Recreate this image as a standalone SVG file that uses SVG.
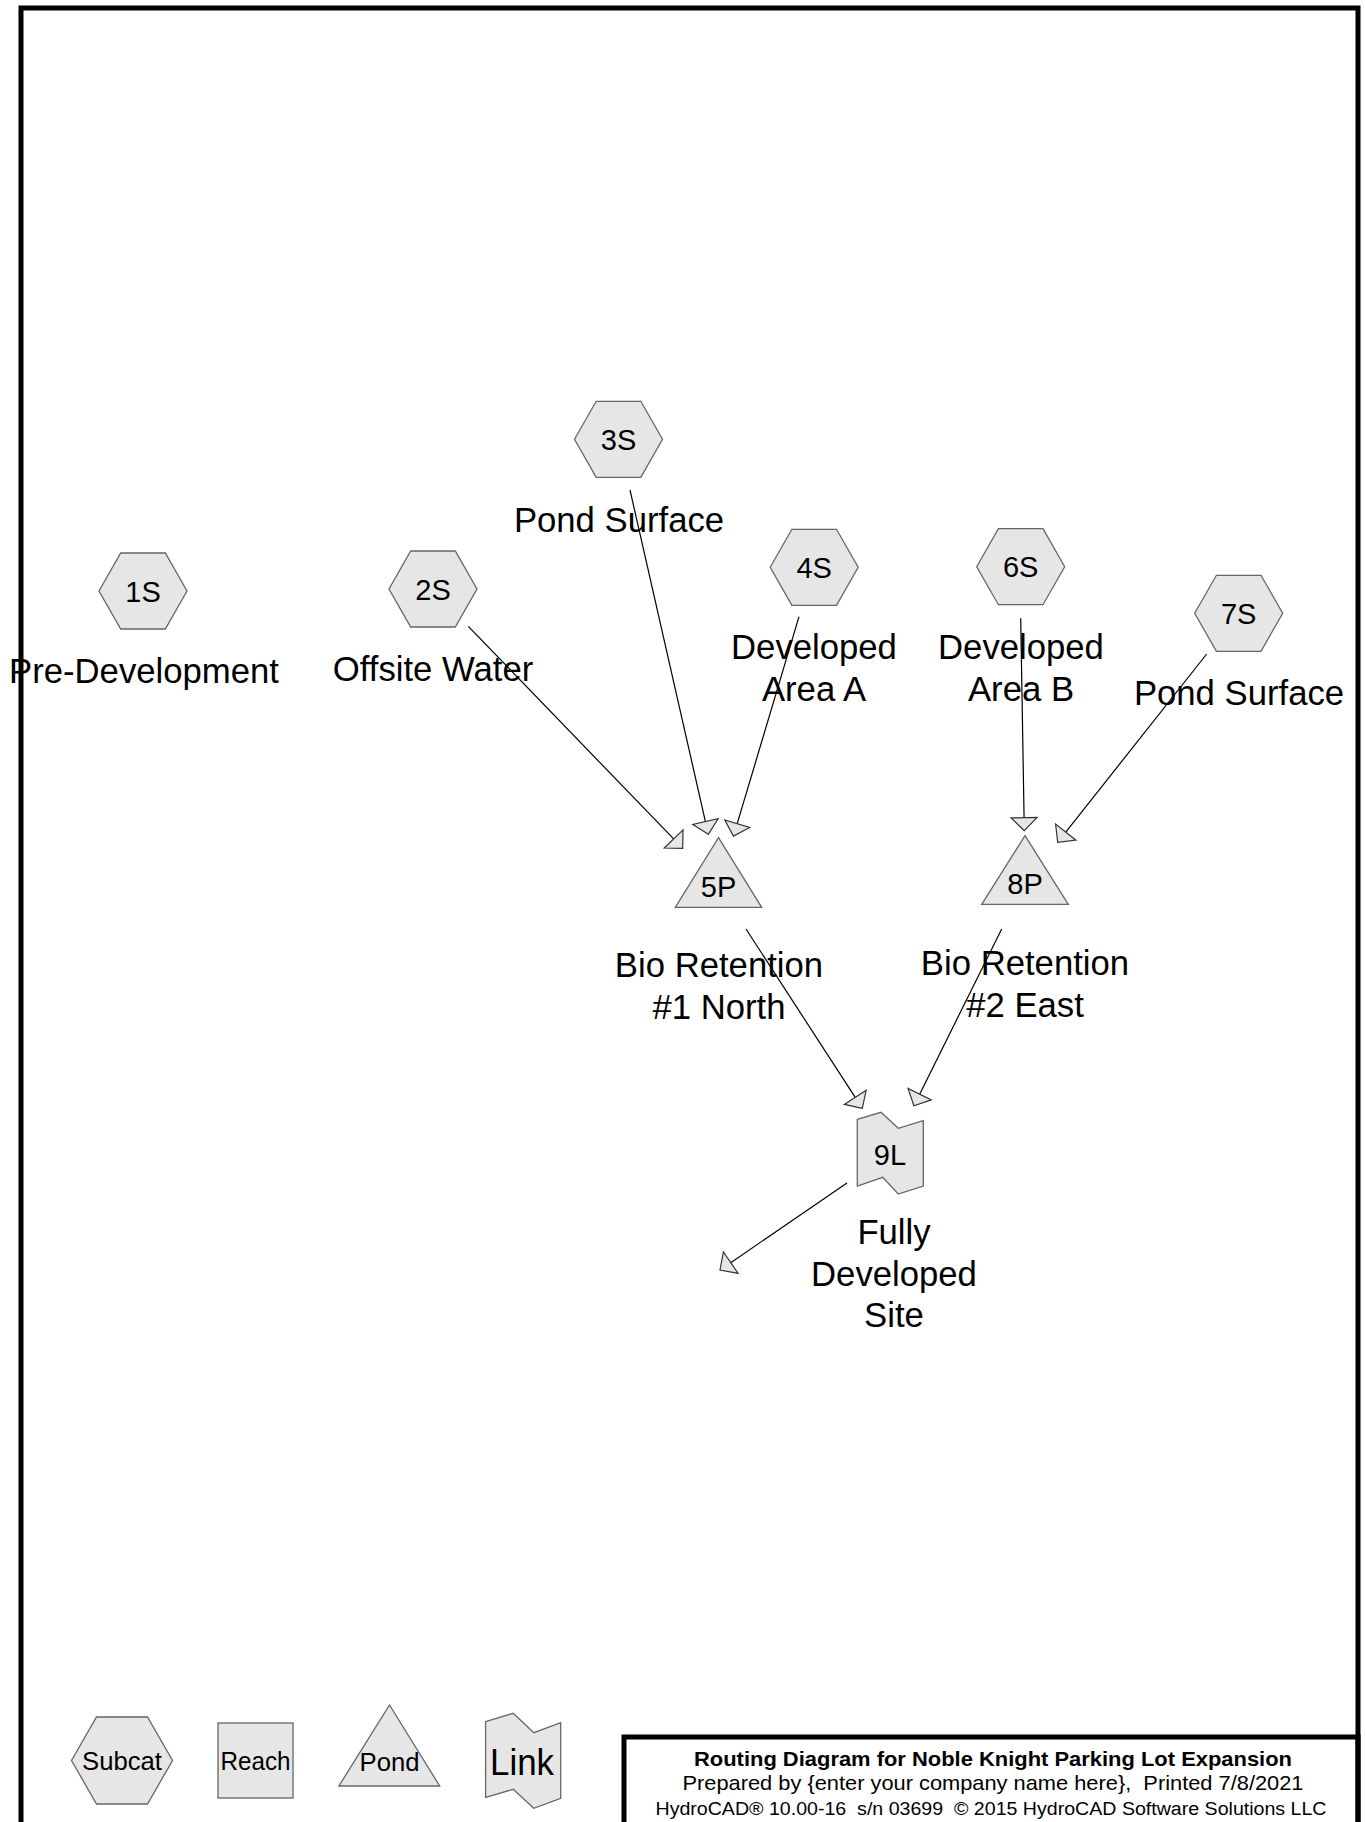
<svg xmlns="http://www.w3.org/2000/svg" width="1365" height="1822" viewBox="0 0 1365 1822">
<style>
.frame{fill:none;stroke:#000;stroke-width:5}
.node{fill:#e6e6e6;stroke:#666;stroke-width:1.3}
.id{font-family:"Liberation Sans",Arial,sans-serif;font-size:29px;fill:#000;text-anchor:middle}
.lbl{font-family:"Liberation Sans",Arial,sans-serif;font-size:34.7px;fill:#000;text-anchor:middle}
.leg{font-family:"Liberation Sans",Arial,sans-serif;font-size:25px;fill:#000;text-anchor:middle}
.ln{stroke:#000;stroke-width:1.2;fill:none}
.ah{fill:#e6e6e6;stroke:#333;stroke-width:1.2}
.t1{font-family:"Liberation Sans",Arial,sans-serif;font-size:21px;font-weight:bold;fill:#000;text-anchor:middle;white-space:pre}
.t2{font-family:"Liberation Sans",Arial,sans-serif;font-size:21px;fill:#000;text-anchor:middle;white-space:pre}
.t3{font-family:"Liberation Sans",Arial,sans-serif;font-size:18px;fill:#000;text-anchor:middle;white-space:pre}
</style>
<defs>
<polygon id="hex" points="-44,0 -22.3,-38 22.3,-38 44,0 22.3,38 -22.3,38"/>
</defs>
<rect width="1365" height="1822" fill="#fff"/>
<rect class="frame" x="21" y="8" width="1337" height="1840"/>

<g id="connectors">
<line class="ln" x1="468.3" y1="626.3" x2="673.67" y2="838.95"/>
<polygon class="ah" points="682.7,848.3 664.32,847.98 683.02,829.92"/>
<line class="ln" x1="630" y1="490" x2="705.42" y2="821.62"/>
<polygon class="ah" points="708.3,834.3 692.74,824.5 718.1,818.74"/>
<line class="ln" x1="799" y1="616.7" x2="737.2" y2="823.7"/>
<polygon class="ah" points="733.48,836.15 724.75,819.98 749.65,827.42"/>
<line class="ln" x1="1020.7" y1="618.3" x2="1024.08" y2="817.7"/>
<polygon class="ah" points="1024.3,830.7 1011.08,817.92 1037.08,817.48"/>
<line class="ln" x1="1206.7" y1="654" x2="1065.77" y2="832.11"/>
<polygon class="ah" points="1057.7,842.3 1055.58,824.04 1075.96,840.18"/>
<line class="ln" x1="746" y1="929" x2="855.23" y2="1097.39"/>
<polygon class="ah" points="862.3,1108.3 844.32,1104.46 866.14,1090.32"/>
<line class="ln" x1="1001.7" y1="929" x2="919.68" y2="1094.16"/>
<polygon class="ah" points="913.9,1105.8 908.04,1088.38 931.32,1099.94"/>
<line class="ln" x1="847" y1="1183" x2="730.73" y2="1262.65"/>
<polygon class="ah" points="720,1270 723.38,1251.92 738.08,1273.38"/>
</g>

<g id="node-1S">
<use href="#hex" class="node" x="143" y="591"/>
<text class="id" x="143" y="601.5">1S</text>
<text class="lbl" x="144" y="683">Pre-Development</text>
</g>
<g id="node-2S">
<use href="#hex" class="node" x="433" y="589"/>
<text class="id" x="433" y="599.5">2S</text>
<text class="lbl" x="433" y="681">Offsite Water</text>
</g>
<g id="node-3S">
<use href="#hex" class="node" x="618.5" y="439.3"/>
<text class="id" x="618.5" y="449.8">3S</text>
<text class="lbl" x="619" y="531.5">Pond Surface</text>
</g>
<g id="node-4S">
<use href="#hex" class="node" x="814.2" y="567.3"/>
<text class="id" x="814.2" y="577.8">4S</text>
<text class="lbl" x="814" y="659">Developed</text>
<text class="lbl" x="814" y="701">Area A</text>
</g>
<g id="node-6S">
<use href="#hex" class="node" x="1020.7" y="566.7"/>
<text class="id" x="1020.7" y="577.2">6S</text>
<text class="lbl" x="1021" y="658.5">Developed</text>
<text class="lbl" x="1021" y="700.5">Area B</text>
</g>
<g id="node-7S">
<use href="#hex" class="node" x="1238.7" y="613.3"/>
<text class="id" x="1238.7" y="623.8">7S</text>
<text class="lbl" x="1239" y="705">Pond Surface</text>
</g>
<g id="node-5P">
<polygon class="node" points="718.5,837.7 761.7,907.3 675.3,907.3"/>
<text class="id" x="718.5" y="897.3">5P</text>
<text class="lbl" x="719" y="976.7">Bio Retention</text>
<text class="lbl" x="719" y="1018.7">#1 North</text>
</g>
<g id="node-8P">
<polygon class="node" points="1025,835.7 1068.3,904.3 981.7,904.3"/>
<text class="id" x="1025" y="894.3">8P</text>
<text class="lbl" x="1025" y="975">Bio Retention</text>
<text class="lbl" x="1025" y="1017">#2 East</text>
</g>
<g id="node-9L">
<polygon class="node" points="857.3,1119.3 881,1112.3 898.3,1128.3 923.3,1120.7 923.3,1186 898.3,1194 882.7,1177.3 857.3,1186"/>
<text class="id" x="890" y="1165">9L</text>
<text class="lbl" x="894" y="1244.3">Fully</text>
<text class="lbl" x="894" y="1285.7">Developed</text>
<text class="lbl" x="894" y="1327">Site</text>
</g>

<g id="legend">
<polygon class="node" points="71.5,1760.5 96.5,1717 147.5,1717 172.5,1760.5 147.5,1804 96.5,1804"/>
<text class="leg" x="122" y="1770" textLength="80" lengthAdjust="spacingAndGlyphs">Subcat</text>
<rect class="node" x="218" y="1723" width="75" height="75"/>
<text class="leg" x="255.5" y="1769.5" textLength="70" lengthAdjust="spacingAndGlyphs">Reach</text>
<polygon class="node" points="389.5,1705 439.7,1786 338.9,1786"/>
<text class="leg" x="389.5" y="1770.5" textLength="60" lengthAdjust="spacingAndGlyphs">Pond</text>
<polygon class="node" points="485.6,1721.7 513.2,1713.3 533.8,1732.7 560.7,1722.7 560.7,1798.3 533.8,1808.3 513.2,1789.3 485.6,1797.3"/>
<text class="leg" x="522" y="1775" style="font-size:36px" textLength="64" lengthAdjust="spacingAndGlyphs">Link</text>
</g>

<g id="title-block">
<rect class="frame" x="624" y="1737" width="734" height="110"/>
<text class="t1" x="993" y="1766" textLength="598" lengthAdjust="spacingAndGlyphs">Routing Diagram for Noble Knight Parking Lot Expansion</text>
<text class="t2" x="993" y="1790" textLength="621" lengthAdjust="spacingAndGlyphs" xml:space="preserve">Prepared by {enter your company name here},  Printed 7/8/2021</text>
<text class="t3" x="991" y="1815" textLength="671" lengthAdjust="spacingAndGlyphs" xml:space="preserve">HydroCAD® 10.00-16  s/n 03699  © 2015 HydroCAD Software Solutions LLC</text>
</g>
</svg>
